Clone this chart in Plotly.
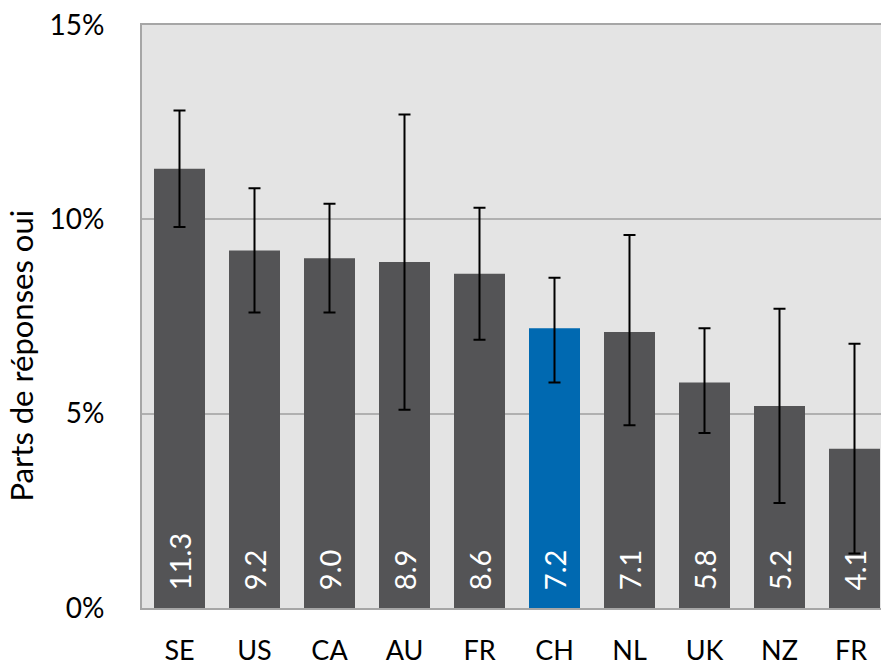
import plotly.graph_objects as go

countries = ['SE', 'US', 'CA', 'AU', 'FR', 'CH', 'NL', 'UK', 'NZ', 'FR ']
shares = [11.3, 9.2, 9.0, 8.9, 8.6, 7.2, 7.1, 5.8, 5.2, 4.1]
ci_low = [9.8, 7.6, 7.6, 5.1, 6.9, 5.8, 4.7, 4.5, 2.7, 1.4]
ci_high = [12.8, 10.8, 10.4, 12.7, 10.3, 8.5, 9.6, 7.2, 7.7, 6.8]
highlight = 'CH'

colors = ['#0069b1' if c == highlight else '#545456' for c in countries]
err_plus = [h - v for h, v in zip(ci_high, shares)]
err_minus = [v - l for v, l in zip(shares, ci_low)]

fig = go.Figure()

fig.add_trace(go.Bar(
    x=countries, y=shares,
    marker=dict(color=colors, line=dict(width=0)),
    # non-breaking spaces lift the labels off the bar base like the original
    text=['\u00a0\u00a0' + f'{v:.1f}' for v in shares],
    textposition='inside', insidetextanchor='start', textangle=-90,
    textfont=dict(family='Lato', size=29, color='white'),
    error_y=dict(type='data', symmetric=False, array=err_plus, arrayminus=err_minus,
                 color='black', thickness=2, width=6),
    cliponaxis=False,
))

# y title sits lower than the plot centre in the original, so it is an annotation
fig.add_annotation(
    text='Parts de réponses oui', textangle=-90, showarrow=False,
    xref='paper', yref='paper', x=-0.162, y=0.433, xanchor='center', yanchor='middle',
    font=dict(family='Lato', size=31, color='black'),
)

# page body has an 8px margin, so the figure is shrunk by 8px to fit the window
fig.update_layout(
    width=881, height=654,
    margin=dict(l=134, r=0, t=17, b=54, autoexpand=False),
    paper_bgcolor='white', plot_bgcolor='#e4e4e4',
    bargap=0.32, showlegend=False,
    font=dict(family='Lato', size=26, color='black'),
    xaxis=dict(range=[-0.5, 9.46], showline=True, mirror=True, linecolor='#a6a6a6', linewidth=2,
               ticks='', ticklabelstandoff=18, tickfont=dict(size=27), automargin=False,
               ticklabeloverflow='allow'),
    yaxis=dict(range=[0, 15], tickvals=[0, 5, 10, 15], ticktext=['0%', '5%', '10%', '15%'],
               showgrid=True, gridcolor='#b0b0b0', gridwidth=1.5, zeroline=False,
               showline=True, linecolor='#a6a6a6', linewidth=2, automargin=False,
               ticks='', ticklabelstandoff=30, tickfont=dict(size=28),
               ticklabeloverflow='allow'),
)

fig.write_html('out.html')
